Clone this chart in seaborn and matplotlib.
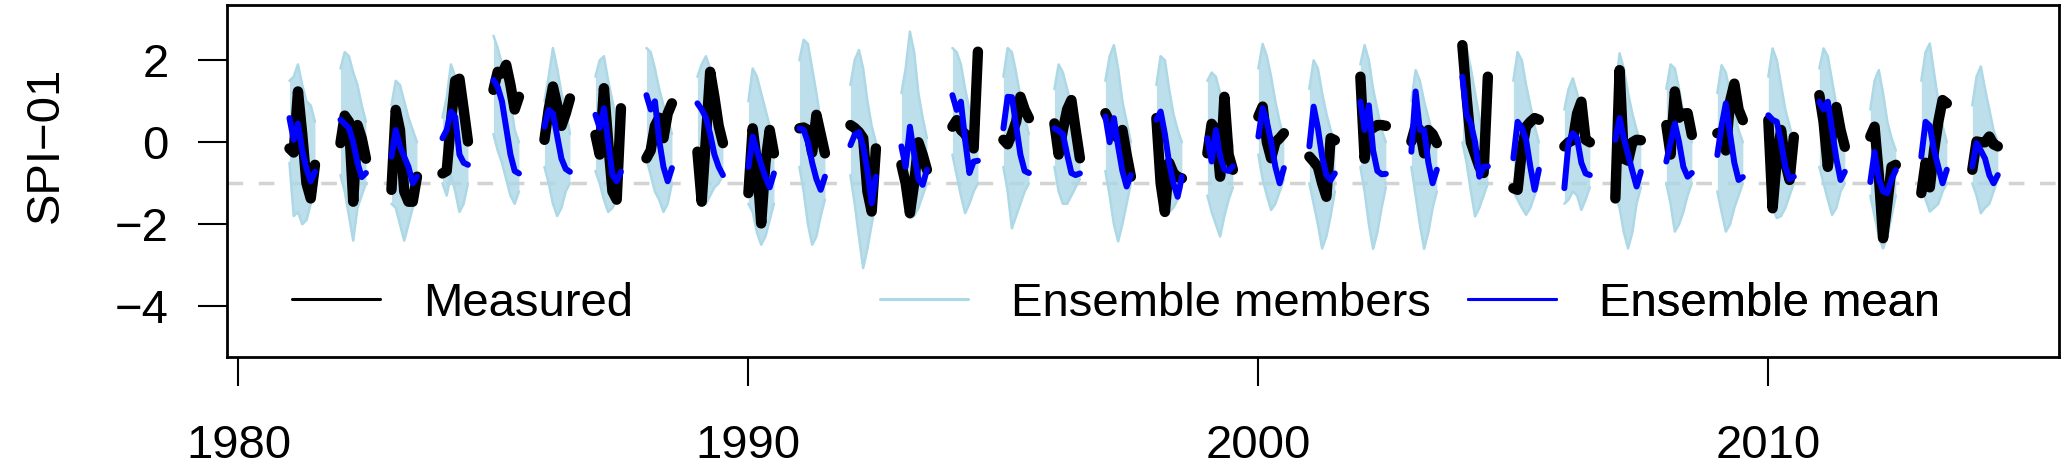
import numpy as np
import pandas as pd
import seaborn as sns
import matplotlib.pyplot as plt
from matplotlib.lines import Line2D

# seasonal forecasts: one 7-month block (Jan..Jul) per start year
years = list(range(1981, 2015))
months = [0, 1, 2, 3, 4, 5, 6]

measured = [
    [-0.15, -0.25, 1.24, 0.2, -1.0, -1.37, -0.55],   # 1981
    [-0.02, 0.65, 0.5, -1.45, 0.42, 0.1, -0.4],      # 1982
    [-1.16, 0.79, 0.3, -1.2, -1.45, -1.45, -0.84],   # 1983
    [-0.76, -0.7, 0.5, 1.5, 1.55, 0.8, 0.02],        # 1984
    [1.28, 1.72, 1.68, 1.89, 1.4, 0.8, 1.11],        # 1985
    [0.06, 0.8, 1.36, 0.9, 0.4, 0.7, 1.07],          # 1986
    [0.18, -0.3, 1.32, 0.0, -1.2, -1.4, 0.83],       # 1987
    [-0.39, -0.2, 0.4, 0.6, 0.1, 0.7, 0.95],         # 1988
    [-0.23, -1.45, 0.1, 1.72, 1.1, 0.4, -0.02],      # 1989
    [-1.24, 0.34, -0.5, -1.98, -0.5, 0.3, -0.27],    # 1990
    [0.34, 0.36, 0.3, -0.25, 0.67, 0.2, -0.27],      # 1991
    [0.42, 0.35, 0.25, 0.1, -1.2, -1.69, -0.15],     # 1992
    [-0.55, -1.0, -1.73, -1.0, 0.0, -0.3, -0.67],    # 1993
    [0.38, 0.54, 0.3, 0.2, 0.0, -0.15, 2.21],        # 1994
    [0.06, -0.05, 0.2, 0.5, 1.11, 0.8, 0.59],        # 1995
    [0.46, -0.3, 0.3, 0.8, 1.03, 0.3, -0.39],        # 1996
    [0.71, 0.5, 0.2, 0.1, 0.3, -0.3, -0.84],         # 1997
    [0.59, -1.0, -1.7, -0.5, -0.75, -0.85, -0.88],   # 1998
    [-0.27, 0.45, 0.3, -0.84, 1.11, -0.3, -0.67],    # 1999
    [0.63, 0.87, 0.0, -0.39, 0.0, 0.1, 0.22],        # 2000
    [-0.35, -0.47, -0.6, -1.0, -1.33, 0.1, 0.05],    # 2001
    [1.6, -0.4, 0.3, 0.35, 0.42, 0.42, 0.4],         # 2002
    [0.02, 0.4, 0.3, -0.27, 0.3, 0.2, -0.02],        # 2003
    [2.37, 1.1, 0.0, -0.3, -0.6, -0.75, 1.6],        # 2004
    [-1.12, -1.16, -0.2, 0.38, 0.5, 0.59, 0.55],     # 2005
    [-0.1, 0.0, 0.05, 0.7, 0.99, 0.06, 0.0],         # 2006
    [-1.37, 1.76, -0.4, -0.45, 0.0, 0.06, 0.05],     # 2007
    [0.42, -0.3, 1.24, 0.6, 0.7, 0.71, 0.18],        # 2008
    [0.22, 0.25, -0.2, 1.0, 1.43, 0.8, 0.54],        # 2009
    [0.54, -1.61, -0.4, 0.3, -0.5, -0.92, 0.13],     # 2010
    [1.15, 0.5, -0.6, 0.2, 0.86, 0.3, -0.11],        # 2011
    [0.14, 0.38, -0.8, -2.34, -1.5, -0.6, -0.55],    # 2012
    [-1.24, -0.5, -1.1, -0.2, 0.5, 1.03, 0.95],      # 2013
    [-0.67, 0.02, 0.0, 0.0, 0.14, -0.05, -0.1],      # 2014
]

ens_mean = [
    [0.59, 0.06, 0.46, -0.2, -0.65, -0.95, -0.72],
    [0.55, 0.45, 0.35, 0.0, -0.5, -0.85, -0.75],
    [-0.35, 0.3, -0.1, -0.35, -0.6, -1.0, -0.84],
    [0.1, 0.3, 0.75, 0.62, -0.3, -0.5, -0.55],
    [1.52, 1.35, 1.0, 0.35, -0.3, -0.7, -0.76],
    [0.38, 0.79, 0.7, 0.15, -0.4, -0.65, -0.72],
    [0.67, 0.35, 0.83, 0.0, -0.8, -0.95, -0.72],
    [1.15, 0.8, 1.0, 0.05, -0.6, -0.95, -0.63],
    [0.95, 0.8, 0.6, 0.2, -0.3, -0.6, -0.8],
    [-0.6, 0.14, -0.2, -0.55, -0.85, -1.1, -0.76],
    [0.34, 0.3, 0.0, -0.5, -0.9, -1.16, -0.84],
    [-0.07, 0.18, 0.25, -0.1, -0.7, -1.49, -0.84],
    [-0.1, -0.6, 0.38, -0.3, -0.9, -1.04, -0.67],
    [1.15, 0.79, 0.99, 0.05, -0.75, -0.47, -0.45],
    [0.34, 1.11, 1.1, 0.4, -0.3, -0.7, -0.75],
    [0.34, 0.28, 0.2, -0.3, -0.75, -0.8, -0.76],
    [0.63, 0.0, 0.59, -0.1, -0.7, -1.08, -0.8],
    [0.55, 0.75, 0.2, -0.5, -1.0, -1.33, -0.84],
    [0.1, -0.47, 0.3, -0.35, -0.67, -0.7, -0.59],
    [0.14, 0.83, 0.5, 0.0, -0.6, -1.0, -0.63],
    [-0.1, 0.87, 0.35, -0.35, -0.8, -0.92, -0.76],
    [0.99, 0.3, 0.9, -0.2, -0.7, -0.78, -0.77],
    [-0.23, 1.24, 0.3, 0.3, -0.5, -1.0, -0.67],
    [1.6, 0.67, 0.46, 0.0, -0.84, -0.6, -0.59],
    [-0.39, 0.5, 0.35, 0.06, -0.6, -1.16, -0.67],
    [-1.12, 0.0, 0.22, 0.1, -0.5, -0.76, -0.8],
    [0.06, 0.59, 0.1, -0.3, -0.7, -1.08, -0.72],
    [-0.47, 0.0, 0.46, 0.0, -0.6, -0.84, -0.75],
    [-0.31, 0.4, 0.95, 0.2, -0.5, -0.92, -0.85],
    [0.66, 0.55, 0.5, 0.0, -0.6, -0.9, -0.84],
    [0.99, 0.8, 0.99, 0.3, -0.4, -0.92, -0.72],
    [-0.97, -0.24, -0.9, -1.2, -1.24, -0.9, -0.68],
    [-0.35, 0.5, 0.4, -0.2, -0.6, -1.0, -0.67],
    [-0.59, -0.02, -0.2, -0.4, -0.8, -1.0, -0.8],
]

# spread of the ensemble members (max / min over members)
ens_hi = [
    [1.5, 1.6, 1.9, 1.4, 1.0, 0.9, 0.5],
    [1.8, 2.2, 2.1, 1.7, 1.4, 0.9, 0.5],
    [0.9, 1.5, 1.4, 1.0, 0.6, 0.3, 0.0],
    [0.6, 1.1, 1.9, 1.6, 1.2, 0.6, 0.1],
    [2.6, 2.3, 1.9, 1.6, 1.0, 0.3, 0.0],
    [1.0, 1.6, 2.3, 1.8, 1.2, 0.8, 0.2],
    [1.6, 2.0, 2.1, 1.5, 1.0, 0.5, 0.2],
    [2.3, 2.2, 1.8, 1.3, 0.9, 0.6, 0.2],
    [1.6, 1.9, 2.1, 1.8, 1.2, 0.6, 0.2],
    [1.0, 1.8, 1.6, 1.2, 0.8, 0.4, 0.0],
    [2.0, 2.5, 2.4, 1.8, 1.2, 0.5, 0.1],
    [1.4, 2.0, 2.25, 1.8, 1.0, 0.4, 0.0],
    [1.2, 1.8, 2.7, 2.2, 1.2, 0.6, 0.1],
    [2.3, 2.2, 1.9, 1.3, 0.8, 0.5, 0.3],
    [1.6, 2.3, 2.2, 1.7, 1.1, 0.6, 0.2],
    [1.3, 1.9, 1.7, 1.3, 0.9, 0.5, 0.1],
    [1.5, 2.1, 2.37, 1.8, 1.0, 0.5, 0.0],
    [1.4, 2.1, 2.0, 1.3, 0.7, 0.3, 0.0],
    [1.5, 1.7, 1.6, 1.2, 0.8, 0.3, -0.1],
    [1.8, 2.4, 2.1, 1.6, 1.0, 0.5, 0.1],
    [1.3, 2.0, 1.8, 1.2, 0.7, 0.3, 0.0],
    [1.9, 2.37, 2.0, 1.3, 0.8, 0.3, 0.0],
    [1.0, 1.76, 1.5, 1.0, 0.6, 0.2, -0.1],
    [2.4, 2.3, 1.8, 1.2, 0.6, 0.2, 0.0],
    [1.5, 2.2, 2.0, 1.4, 0.9, 0.4, 0.0],
    [0.8, 1.3, 1.56, 1.2, 0.8, 0.3, -0.1],
    [1.3, 2.17, 1.8, 1.2, 0.7, 0.3, 0.0],
    [1.3, 1.9, 1.8, 1.3, 0.7, 0.3, 0.0],
    [1.2, 1.88, 1.7, 1.2, 0.7, 0.3, 0.0],
    [1.6, 2.29, 2.0, 1.4, 0.8, 0.4, 0.0],
    [1.8, 2.29, 2.1, 1.5, 0.9, 0.4, 0.0],
    [0.8, 1.5, 1.76, 1.2, 0.5, 0.1, -0.2],
    [1.5, 2.2, 2.41, 1.7, 1.0, 0.4, 0.0],
    [0.9, 1.6, 1.85, 1.3, 0.8, 0.3, 0.0],
]

ens_lo = [
    [-0.5, -1.8, -1.7, -2.0, -1.9, -1.5, -1.2],
    [-0.8, -1.2, -1.8, -2.4, -1.6, -1.3, -1.0],
    [-1.5, -1.6, -2.0, -2.4, -2.0, -1.6, -1.3],
    [-1.0, -1.3, -0.8, -1.2, -1.7, -1.5, -1.0],
    [0.2, -0.2, -0.5, -0.9, -1.3, -1.5, -1.2],
    [-0.6, -1.0, -1.5, -1.8, -1.6, -1.2, -1.0],
    [-0.7, -1.0, -1.4, -1.7, -1.6, -1.4, -1.0],
    [-0.4, -0.8, -1.2, -1.4, -1.7, -1.5, -1.0],
    [-1.0, -1.3, -1.5, -1.3, -1.1, -1.0, -0.8],
    [-1.5, -1.7, -2.2, -2.5, -2.3, -1.9, -1.5],
    [-0.6, -1.2, -2.0, -2.5, -2.3, -1.8, -1.4],
    [-0.8, -1.5, -2.3, -3.07, -2.6, -2.0, -1.5],
    [-0.9, -1.3, -1.85, -1.8, -1.6, -1.3, -1.0],
    [-0.3, -0.8, -1.3, -1.73, -1.5, -1.2, -1.0],
    [-0.6, -1.2, -2.1, -1.8, -1.5, -1.2, -1.0],
    [-0.6, -1.2, -1.5, -1.5, -1.3, -1.1, -0.9],
    [-0.7, -1.3, -2.0, -2.42, -2.0, -1.5, -1.0],
    [-0.4, -1.0, -1.7, -1.7, -1.6, -1.4, -1.1],
    [-1.3, -1.7, -2.0, -2.3, -1.8, -1.4, -1.1],
    [-0.3, -0.9, -1.3, -1.65, -1.5, -1.2, -0.9],
    [-1.0, -1.5, -2.0, -2.59, -2.3, -1.8, -1.2],
    [-0.6, -1.2, -2.0, -2.6, -2.2, -1.6, -1.1],
    [-0.6, -1.3, -2.0, -2.6, -2.2, -1.6, -1.2],
    [0.0, -0.5, -1.2, -1.81, -1.6, -1.3, -1.0],
    [-1.2, -1.4, -1.6, -1.77, -1.6, -1.3, -1.0],
    [-1.5, -1.4, -1.2, -1.3, -1.65, -1.4, -1.1],
    [-1.3, -1.6, -2.2, -2.59, -2.2, -1.5, -1.1],
    [-1.0, -1.5, -2.18, -2.0, -1.7, -1.3, -1.0],
    [-1.2, -1.7, -2.18, -2.0, -1.6, -1.3, -1.0],
    [-1.0, -1.6, -1.85, -1.8, -1.6, -1.3, -1.0],
    [-0.6, -1.0, -1.4, -1.77, -1.6, -1.2, -1.0],
    [-1.3, -1.8, -2.3, -2.59, -2.3, -1.8, -1.3],
    [-0.9, -1.4, -1.69, -1.6, -1.5, -1.2, -1.0],
    [-1.0, -1.3, -1.73, -1.6, -1.5, -1.2, -0.9],
]

y_ticks = [-4, -2, 0, 2]
x_ticks = [1980, 1990, 2000, 2010]
threshold = -1

rows = []
for i, yr in enumerate(years):
    for j, m in enumerate(months):
        rows.append({"year": yr, "t": yr + m / 12.0,
                     "measured": measured[i][j], "mean": ens_mean[i][j],
                     "hi": ens_hi[i][j], "lo": ens_lo[i][j]})
df = pd.DataFrame(rows)

sns.set_theme(style="white", rc={"axes.edgecolor": "black", "text.color": "black",
                                 "xtick.color": "black", "ytick.color": "black",
                                 "axes.labelcolor": "black"})
plt.rcParams["font.family"] = ["Liberation Sans", "DejaVu Sans"]
FS = 34

fig = plt.figure(figsize=(20.66, 4.76), dpi=100)
ax = fig.add_axes([227 / 2066, 1 - 357 / 476, 1832 / 2066, 352 / 476])

ax.axhline(threshold, color="lightgray", lw=2.5, ls=(0, (4.5, 4.5)), zorder=1)

# ensemble members (spread drawn as a light band with its edges)
for yr, g in df.groupby("year"):
    ax.fill_between(g["t"], g["lo"], g["hi"], color="lightblue", alpha=0.8, lw=0, zorder=2)
sns.lineplot(data=df, x="t", y="hi", units="year", estimator=None, color="lightblue",
             lw=1.8, ax=ax, zorder=2)
sns.lineplot(data=df, x="t", y="lo", units="year", estimator=None, color="lightblue",
             lw=1.8, ax=ax, zorder=2)

# measured and ensemble mean
sns.lineplot(data=df, x="t", y="measured", units="year", estimator=None, color="black",
             lw=7.5, solid_capstyle="round", solid_joinstyle="round", ax=ax, zorder=3)
sns.lineplot(data=df, x="t", y="mean", units="year", estimator=None, color="blue",
             lw=4.3, solid_capstyle="round", solid_joinstyle="round", ax=ax, zorder=4)

ax.set_xlim(1979.775, 2015.70)
ax.set_ylim(-5.24, 3.35)
ax.set_xticks(x_ticks)
ax.set_yticks(y_ticks)
ax.set_xlabel("")
ax.set_ylabel("SPI\u221201", fontsize=FS)
ax.yaxis.set_label_coords(-0.087, 0.602)

for s in ax.spines.values():
    s.set_visible(True)
    s.set_linewidth(2.0)
    s.set_color("black")
ax.tick_params(axis="both", which="major", bottom=True, left=True, direction="out",
               length=21, width=1.5, labelsize=FS)
ax.tick_params(axis="x", pad=27)
ax.tick_params(axis="y", pad=21)

# legend, three entries placed like the original
entries = [("Measured", "black", 0.0355), ("Ensemble members", "lightblue", 0.3564),
           ("Ensemble mean", "blue", 0.6774)]
for label, col, xpos in entries:
    h = Line2D([], [], color=col, lw=2.2)
    leg = ax.legend(handles=[h], labels=[label], loc="center left",
                    bbox_to_anchor=(xpos, 0.1506), frameon=False, fontsize=FS,
                    handlelength=1.87, handletextpad=0.9, borderpad=0, borderaxespad=0)
    ax.add_artist(leg)

fig.savefig("out.png", dpi=100)
